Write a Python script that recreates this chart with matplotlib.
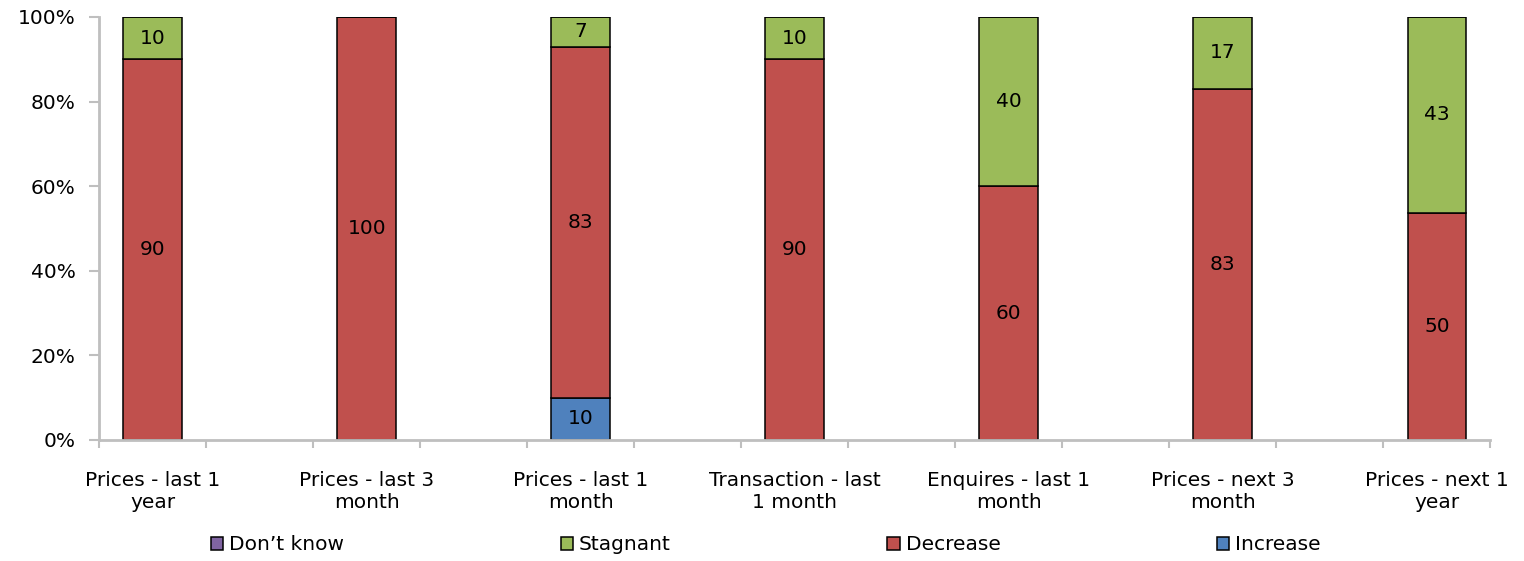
import numpy as np
import matplotlib.pyplot as plt

categories = ['Prices - last 1\nyear', 'Prices - last 3\nmonth', 'Prices - last 1\nmonth',
              'Transaction - last\n1 month', 'Enquires - last 1\nmonth', 'Prices - next 3\nmonth',
              'Prices - next 1\nyear']
increase = [0, 0, 10, 0, 0, 0, 0]
decrease = [90, 100, 83, 90, 60, 83, 50]
stagnant = [10, 0, 7, 10, 40, 17, 43]
dont_know = [0, 0, 0, 0, 0, 0, 0]

series = [('Increase', increase, '#4F81BD'),
          ('Decrease', decrease, '#C0504D'),
          ('Stagnant', stagnant, '#9BBB59'),
          ("Don\u2019t know", dont_know, '#8064A2')]

plt.rcParams['font.family'] = ['DejaVu Sans']
fs = 14.5

fig = plt.figure(figsize=(15.24, 5.61), dpi=100)
ax = fig.add_axes([0.065, 0.2157, 0.913, 0.754])

# bars sit in every other slot, empty slots between them
x = np.arange(len(categories)) * 2
total = np.sum([s[1] for s in series], axis=0)
bottom = np.zeros(len(categories))
handles = {}
for name, vals, color in series:
    vals = np.array(vals, dtype=float)
    h = vals / total
    b = ax.bar(x, h, 0.55, bottom=bottom, color=color, edgecolor='black', linewidth=1.1, label=name)
    handles[name] = b
    for xi, v, hi, bi in zip(x, vals, h, bottom):
        if v > 0:
            ax.text(xi, bi + hi / 2, f'{v:g}', ha='center', va='center', fontsize=fs, color='black')
    bottom += h

ax.set_xlim(-0.5, 12.5)
ax.set_ylim(0, 1)
ax.set_yticks(np.arange(0, 1.01, 0.2))
ax.set_yticklabels([f'{int(round(t * 100))}%' for t in np.arange(0, 1.01, 0.2)], fontsize=fs)

ax.set_xticks(np.arange(-0.5, 12.6, 1))
ax.set_xticklabels([])
ax.set_xticks(x, minor=True)
ax.set_xticklabels(categories, minor=True, fontsize=fs, linespacing=1.2)
ax.tick_params(axis='x', which='minor', length=0, pad=22)
ax.tick_params(axis='x', which='major', length=6, color='#BFBFBF', width=1.5, direction='out')
ax.tick_params(axis='y', length=7, color='#BFBFBF', width=1.5, direction='out', pad=10)

for side in ['top', 'right']:
    ax.spines[side].set_visible(False)
for side in ['left', 'bottom']:
    ax.spines[side].set_color('#BFBFBF')
    ax.spines[side].set_linewidth(2)

order = ["Don\u2019t know", 'Stagnant', 'Decrease', 'Increase']
fig.legend([handles[n] for n in order], order, loc='center', bbox_to_anchor=(766 / 1524, 1 - 545 / 561),
           ncol=4, frameon=False, fontsize=fs, handlelength=0.6, handleheight=0.6,
           handletextpad=0.3, columnspacing=10.75)

plt.savefig('out.png')
